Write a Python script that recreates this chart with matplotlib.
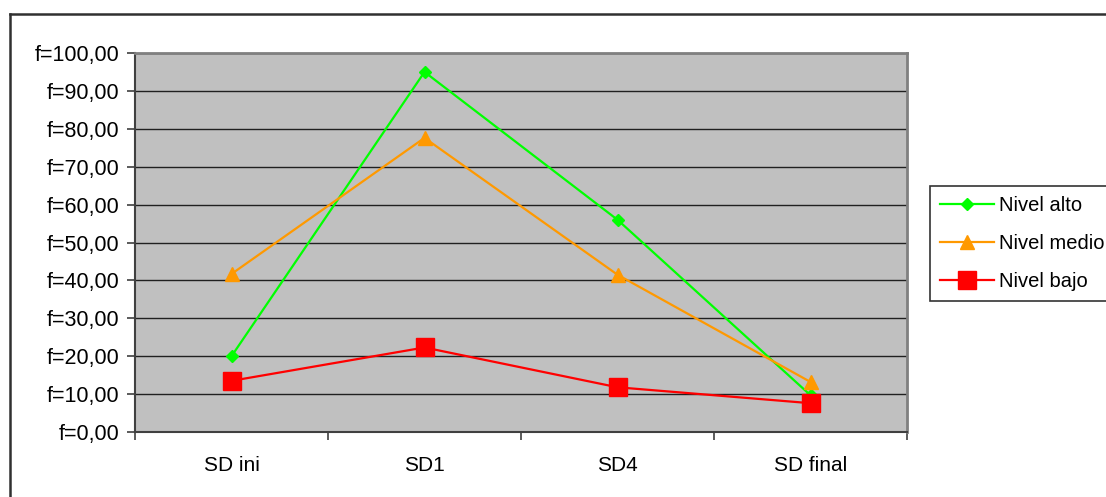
import matplotlib
matplotlib.use("Agg")
import matplotlib.pyplot as plt
from matplotlib.lines import Line2D
from matplotlib.ticker import FuncFormatter

# Datos
categorias = ["SD ini", "SD1", "SD4", "SD final"]
nivel_alto = [20.0, 95.0, 56.0, 9.7]
nivel_medio = [41.7, 77.6, 41.5, 13.2]
nivel_bajo = [13.5, 22.3, 11.8, 7.6]
y_ticks = [0, 10, 20, 30, 40, 50, 60, 70, 80, 90, 100]

plt.rcParams["font.family"] = ["Liberation Sans", "DejaVu Sans"]

W, H = 1106, 497
fig = plt.figure(figsize=(W / 100, H / 100), dpi=100)
ax = fig.add_axes([135 / W, 1 - 432 / H, (907 - 135) / W, (432 - 53) / H])
ax.set_facecolor("#C0C0C0")

x = [i + 0.5 for i in range(len(categorias))]
ax.plot(x, nivel_alto, color="#00FF00", lw=1.6, marker="D", ms=6, label="Nivel alto", zorder=3)
ax.plot(x, nivel_medio, color="#FF9900", lw=1.6, marker="^", ms=9.5, label="Nivel medio", zorder=3)
ax.plot(x, nivel_bajo, color="#FF0000", lw=1.6, marker="s", ms=13, label="Nivel bajo", zorder=4)

ax.set_xlim(0, len(categorias))
ax.set_ylim(0, 100)
ax.set_yticks(y_ticks)
ax.yaxis.set_major_formatter(FuncFormatter(lambda v, p: "f=%s" % ("%.2f" % v).replace(".", ",")))
ax.set_xticks(range(len(categorias) + 1))
ax.set_xticklabels([])
ax.set_xticks(x, minor=True)
ax.set_xticklabels(categorias, minor=True)
ax.tick_params(axis="x", which="minor", length=0, pad=17, labelsize=15)
ax.tick_params(axis="x", which="major", length=6, width=1.2, color="#404040")
ax.tick_params(axis="y", length=6, width=1.2, color="#404040", labelsize=15.5, pad=5)

ax.grid(axis="y", color="#202020", lw=1)
ax.set_axisbelow(True)
for s in ["top", "right"]:
    ax.spines[s].set_color("#808080")
    ax.spines[s].set_linewidth(2)
for s in ["left", "bottom"]:
    ax.spines[s].set_color("#404040")
    ax.spines[s].set_linewidth(1.5)

leg = ax.legend(loc="upper left", bbox_to_anchor=(930 / W, 1 - 186 / H),
                bbox_transform=fig.transFigure, fontsize=14.5, frameon=True,
                fancybox=False, edgecolor="black", handlelength=2.7,
                handletextpad=0.25, labelspacing=0.95, borderpad=0.5,
                borderaxespad=0)
leg.get_frame().set_linewidth(1.2)

# borde exterior del gráfico
fig.add_artist(Line2D([10 / W, 10 / W], [0, 1 - 14 / H], color="#303030", lw=1.8))
fig.add_artist(Line2D([10 / W, 1], [1 - 14 / H, 1 - 14 / H], color="#303030", lw=1.8))

fig.savefig("out.png", dpi=100)
